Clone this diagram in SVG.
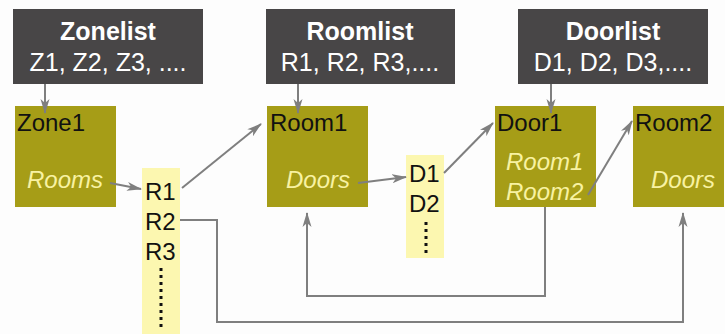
<svg xmlns="http://www.w3.org/2000/svg" width="725" height="334" viewBox="0 0 725 334">
  <defs>
    <marker id="arrow" viewBox="0 0 15 10" refX="14" refY="5" markerWidth="15" markerHeight="10" markerUnits="userSpaceOnUse" orient="auto">
      <path d="M0,0.5 L15,5 L0,9.5 L4,5 Z" fill="#7f7f7f"/>
    </marker>
  </defs>
  <style>
    .list { fill: #484647; }
    .rec { fill: #a69d17; }
    .col { fill: #fcf7b0; }
    .head { font-family: "Liberation Sans", Arial, sans-serif; font-size: 25px; font-weight: bold; fill: #ffffff; text-anchor: middle; }
    .items { font-family: "Liberation Sans", Arial, sans-serif; font-size: 25px; fill: #ffffff; text-anchor: middle; }
    .name { font-family: "Liberation Sans", Arial, sans-serif; font-size: 24px; fill: #111111; }
    .field { font-family: "Liberation Sans", Arial, sans-serif; font-size: 24px; font-style: italic; fill: #f8f2a2; }
    .entry { font-family: "Liberation Sans", Arial, sans-serif; font-size: 24px; fill: #111111; }
    .link { fill: none; stroke: #7f7f7f; stroke-width: 2; }
    .dots { fill: none; stroke: #111111; stroke-width: 3; stroke-dasharray: 3 4; }
  </style>
  <rect width="725" height="334" fill="#fdfdfd"/>

  <!-- index lists -->
  <g id="zonelist">
    <rect class="list" x="13" y="9" width="190" height="75"/>
    <text class="head" x="108" y="40">Zonelist</text>
    <text class="items" x="108" y="71">Z1, Z2, Z3, ....</text>
  </g>
  <g id="roomlist">
    <rect class="list" x="266" y="9" width="189" height="75"/>
    <text class="head" x="360" y="40">Roomlist</text>
    <text class="items" x="360" y="71">R1, R2, R3,....</text>
  </g>
  <g id="doorlist">
    <rect class="list" x="518" y="9" width="190" height="75"/>
    <text class="head" x="613" y="40">Doorlist</text>
    <text class="items" x="613" y="71">D1, D2, D3,....</text>
  </g>

  <!-- records -->
  <g id="zone1">
    <rect class="rec" x="15" y="106" width="101" height="101"/>
    <text class="name" x="17" y="131">Zone1</text>
    <text class="field" x="27" y="188">Rooms</text>
  </g>
  <g id="room1">
    <rect class="rec" x="267" y="106" width="101" height="101"/>
    <text class="name" x="270" y="131">Room1</text>
    <text class="field" x="286" y="188">Doors</text>
  </g>
  <g id="door1">
    <rect class="rec" x="495" y="106" width="101" height="101"/>
    <text class="name" x="497" y="131">Door1</text>
    <text class="field" x="506" y="170">Room1</text>
    <text class="field" x="506" y="200">Room2</text>
  </g>
  <g id="room2">
    <rect class="rec" x="633" y="106" width="91" height="101"/>
    <text class="name" x="635" y="131">Room2</text>
    <text class="field" x="651" y="188">Doors</text>
  </g>

  <!-- reference columns -->
  <g id="rooms-column">
    <rect class="col" x="142" y="168" width="38" height="166"/>
    <text class="entry" x="145" y="200">R1</text>
    <text class="entry" x="145" y="230">R2</text>
    <text class="entry" x="145" y="260">R3</text>
    <line class="dots" x1="161" y1="268" x2="161" y2="328"/>
  </g>
  <g id="doors-column">
    <rect class="col" x="406" y="155" width="38" height="103"/>
    <text class="entry" x="409" y="182">D1</text>
    <text class="entry" x="409" y="212">D2</text>
    <line class="dots" x1="426" y1="222" x2="426" y2="254"/>
  </g>

  <!-- connectors -->
  <g id="connectors">
    <line class="link" x1="45" y1="84" x2="45" y2="113" marker-end="url(#arrow)"/>
    <line class="link" x1="298" y1="84" x2="298" y2="113" marker-end="url(#arrow)"/>
    <line class="link" x1="551" y1="84" x2="551" y2="113" marker-end="url(#arrow)"/>
    <line class="link" x1="110" y1="183" x2="141" y2="189" marker-end="url(#arrow)"/>
    <line class="link" x1="358" y1="183" x2="406" y2="177" marker-end="url(#arrow)"/>
    <line class="link" x1="182" y1="188" x2="261" y2="124" marker-end="url(#arrow)"/>
    <line class="link" x1="444" y1="173" x2="493" y2="123" marker-end="url(#arrow)"/>
    <line class="link" x1="588" y1="195" x2="632" y2="121" marker-end="url(#arrow)"/>
    <polyline class="link" points="545,207 545,296 307,296 307,213" marker-end="url(#arrow)"/>
    <polyline class="link" points="180,220 217,220 217,322 683,322 683,213" marker-end="url(#arrow)"/>
  </g>
</svg>
